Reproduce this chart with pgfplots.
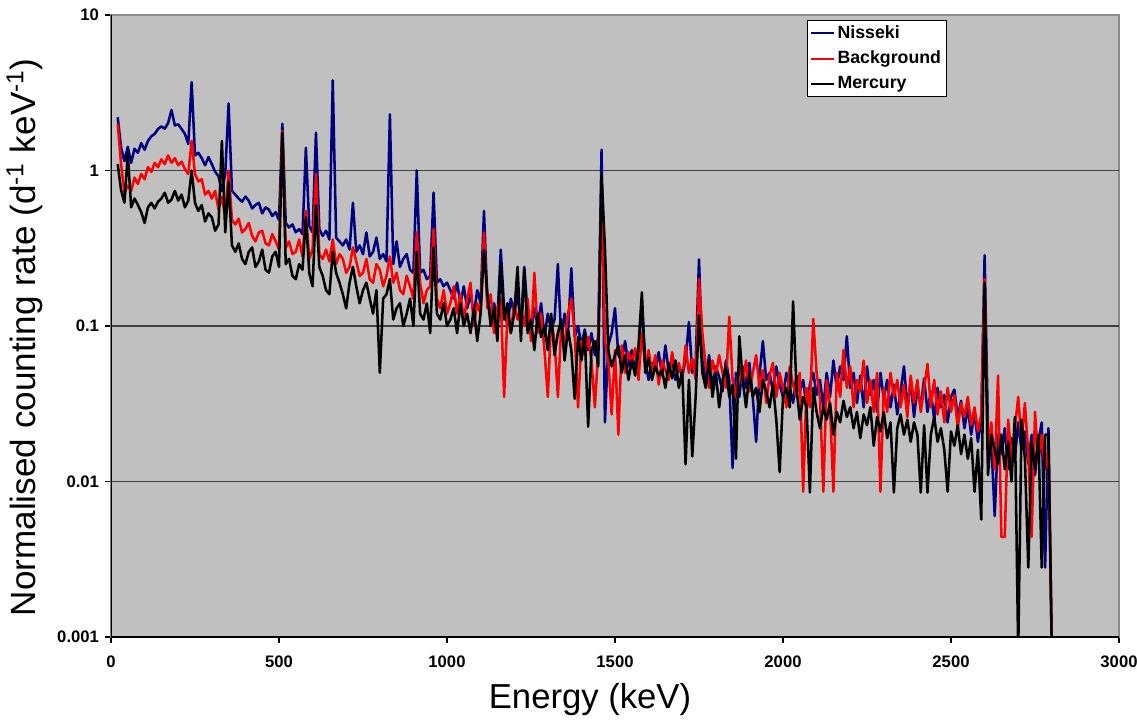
\documentclass[border=0pt]{standalone}
\usepackage{fontspec}
\setmainfont{Liberation Sans}
\usepackage{pgfplots}
\usepackage{pgfplotstable}
\pgfplotsset{compat=1.18}
\usetikzlibrary{calc}
\definecolor{nisseki}{HTML}{000080}
\definecolor{plotbg}{HTML}{C0C0C0}
\definecolor{gridc}{HTML}{404040}

% E (keV), Nisseki, Background, Mercury  (d^-1 keV^-1)
\pgfplotstableread{
E N B M
20 2.20 2.00 1.10
30 1.40 1.10 0.75
40 1.15 0.72 0.62
50 1.42 0.80 1.28
60 1.12 0.74 0.58
70 1.38 0.90 0.66
80 1.30 0.82 0.60
90 1.50 0.95 0.54
100 1.36 0.88 0.46
110 1.55 1.05 0.58
120 1.66 0.98 0.62
130 1.72 1.12 0.57
140 1.85 1.05 0.63
150 1.92 1.18 0.66
160 1.86 1.10 0.72
170 2.02 1.25 0.62
180 2.45 1.12 0.65
190 1.95 1.20 0.74
200 1.98 1.08 0.64
210 1.85 1.14 0.70
220 1.72 1.02 0.58
230 1.48 0.95 0.64
240 3.70 1.55 1.00
250 1.25 0.95 0.62
260 1.30 0.85 0.55
270 1.20 0.88 0.60
280 1.08 0.70 0.47
290 1.22 0.74 0.53
300 1.10 0.66 0.50
310 0.98 0.74 0.41
320 0.92 0.56 0.45
330 0.74 0.68 1.55
340 0.95 0.50 0.40
350 2.70 1.00 0.85
360 0.74 0.48 0.33
370 0.70 0.45 0.30
380 0.66 0.49 0.34
390 0.63 0.40 0.27
400 0.68 0.42 0.25
410 0.64 0.46 0.30
420 0.57 0.38 0.32
430 0.60 0.35 0.24
440 0.62 0.40 0.26
450 0.53 0.41 0.31
460 0.58 0.34 0.23
470 0.56 0.33 0.22
480 0.51 0.39 0.28
490 0.54 0.35 0.30
500 0.48 0.31 0.24
510 2.00 1.80 1.75
520 0.46 0.32 0.25
530 0.43 0.35 0.27
540 0.45 0.29 0.21
550 0.40 0.30 0.20
560 0.42 0.36 0.25
570 0.39 0.28 0.23
580 1.40 0.55 0.50
590 0.44 0.27 0.22
600 0.40 0.31 0.18
610 1.75 0.95 0.60
620 0.42 0.29 0.24
630 0.38 0.27 0.21
640 0.41 0.31 0.17
650 0.36 0.26 0.16
660 3.80 0.36 0.30
670 0.37 0.25 0.22
680 0.35 0.29 0.19
690 0.33 0.27 0.16
700 0.36 0.22 0.13
710 0.31 0.24 0.19
720 0.62 0.32 0.24
730 0.30 0.26 0.18
740 0.33 0.21 0.14
750 0.29 0.22 0.17
760 0.40 0.27 0.19
770 0.28 0.20 0.15
780 0.30 0.19 0.12
790 0.37 0.25 0.17
800 0.27 0.23 0.05
810 0.29 0.18 0.15
820 0.26 0.21 0.16
830 2.30 0.28 0.20
840 0.25 0.19 0.11
850 0.35 0.22 0.13
860 0.24 0.17 0.14
870 0.27 0.16 0.10
880 0.29 0.21 0.12
890 0.23 0.18 0.15
900 0.22 0.15 0.10
910 1.00 0.40 0.30
920 0.22 0.19 0.12
930 0.23 0.14 0.11
940 0.20 0.17 0.14
950 0.21 0.18 0.09
960 0.72 0.42 0.32
970 0.19 0.15 0.12
980 0.20 0.13 0.11
990 0.18 0.17 0.14
1000 0.19 0.12 0.10
1010 0.17 0.14 0.11
1020 0.15 0.18 0.13
1030 0.19 0.12 0.09
1040 0.14 0.16 0.14
1050 0.18 0.11 0.10
1060 0.13 0.15 0.12
1070 0.16 0.19 0.09
1080 0.12 0.10 0.13
1090 0.17 0.14 0.08
1100 0.14 0.12 0.12
1110 0.55 0.40 0.31
1120 0.15 0.13 0.16
1130 0.12 0.16 0.10
1140 0.14 0.09 0.13
1150 0.11 0.13 0.08
1160 0.31 0.15 0.25
1170 0.13 0.035 0.11
1180 0.10 0.12 0.14
1190 0.15 0.09 0.09
1200 0.12 0.14 0.12
1210 0.16 0.11 0.24
1220 0.10 0.13 0.08
1230 0.24 0.10 0.23
1240 0.12 0.15 0.09
1250 0.09 0.08 0.11
1260 0.13 0.22 0.07
1270 0.10 0.09 0.12
1280 0.14 0.12 0.085
1290 0.085 0.07 0.10
1300 0.12 0.035 0.07
1310 0.095 0.11 0.12
1320 0.11 0.08 0.065
1330 0.25 0.035 0.09
1340 0.08 0.10 0.11
1350 0.12 0.075 0.06
1360 0.09 0.12 0.095
1370 0.235 0.15 0.07
1380 0.085 0.09 0.034
1390 0.10 0.03 0.085
1400 0.075 0.08 0.06
1410 0.095 0.065 0.09
1420 0.07 0.085 0.0225
1430 0.09 0.06 0.07
1440 0.065 0.03 0.08
1450 0.085 0.07 0.055
1460 1.36 0.85 0.95
1470 0.024 0.08 0.32
1480 0.075 0.06 0.07
1490 0.09 0.027 0.055
1500 0.13 0.07 0.065
1510 0.065 0.02 0.075
1520 0.06 0.075 0.05
1530 0.08 0.05 0.065
1540 0.055 0.068 0.045
1550 0.07 0.058 0.06
1560 0.05 0.072 0.048
1570 0.065 0.045 0.075
1580 0.14 0.09 0.165
1590 0.06 0.055 0.05
1600 0.045 0.07 0.062
1610 0.058 0.05 0.045
1620 0.052 0.065 0.055
1630 0.068 0.042 0.048
1640 0.048 0.06 0.052
1650 0.075 0.052 0.04
1660 0.05 0.045 0.058
1670 0.062 0.068 0.046
1680 0.045 0.05 0.06
1690 0.055 0.058 0.04
1700 0.048 0.045 0.052
1710 0.06 0.075 0.0129
1720 0.106 0.05 0.045
1730 0.05 0.062 0.0145
1740 0.058 0.045 0.035
1750 0.268 0.2 0.117
1760 0.06 0.09 0.05
1770 0.045 0.055 0.04
1780 0.065 0.04 0.06
1790 0.04 0.06 0.035
1800 0.055 0.048 0.05
1810 0.047 0.065 0.03
1820 0.038 0.05 0.045
1830 0.06 0.04 0.055
1840 0.045 0.115 0.035
1850 0.0122 0.045 0.042
1860 0.05 0.035 0.014
1870 0.035 0.055 0.086
1880 0.055 0.042 0.045
1890 0.04 0.06 0.03
1900 0.058 0.038 0.05
1910 0.035 0.05 0.035
1920 0.018 0.065 0.04
1930 0.048 0.04 0.028
1940 0.08 0.052 0.045
1950 0.045 0.032 0.038
1960 0.05 0.048 0.03
1970 0.038 0.058 0.042
1980 0.055 0.035 0.025
1990 0.042 0.05 0.0115
2000 0.035 0.04 0.035
2010 0.05 0.03 0.04
2020 0.04 0.055 0.03
2030 0.032 0.042 0.144
2040 0.048 0.035 0.04
2050 0.038 0.05 0.025
2060 0.045 0.0086 0.035
2070 0.03 0.04 0.03
2080 0.042 0.03 0.0085
2090 0.05 0.111 0.04
2100 0.036 0.05 0.028
2110 0.045 0.035 0.022
2120 0.03 0.0086 0.03
2130 0.05 0.045 0.025
2140 0.035 0.03 0.032
2150 0.06 0.0086 0.02
2160 0.04 0.05 0.028
2170 0.055 0.035 0.024
2180 0.045 0.07 0.033
2190 0.086 0.04 0.026
2200 0.04 0.055 0.03
2210 0.05 0.03 0.022
2220 0.032 0.045 0.028
2230 0.048 0.038 0.019
2240 0.03 0.06 0.027
2250 0.055 0.032 0.023
2260 0.036 0.045 0.03
2270 0.045 0.028 0.017
2280 0.028 0.05 0.026
2290 0.05 0.0086 0.021
2300 0.034 0.04 0.028
2310 0.045 0.028 0.019
2320 0.03 0.05 0.024
2330 0.042 0.035 0.0085
2340 0.027 0.045 0.022
2350 0.038 0.03 0.027
2360 0.055 0.042 0.02
2370 0.03 0.026 0.025
2380 0.044 0.048 0.018
2390 0.026 0.032 0.024
2400 0.04 0.045 0.02
2410 0.03 0.028 0.0085
2420 0.046 0.04 0.023
2430 0.028 0.057 0.0085
2440 0.038 0.03 0.02
2450 0.025 0.045 0.026
2460 0.04 0.027 0.018
2470 0.03 0.038 0.022
2480 0.036 0.024 0.016
2490 0.024 0.04 0.0086
2500 0.035 0.028 0.021
2510 0.039 0.036 0.017
2520 0.026 0.022 0.023
2530 0.033 0.032 0.015
2540 0.022 0.026 0.02
2550 0.03 0.035 0.014
2560 0.02 0.023 0.019
2570 0.028 0.03 0.0086
2580 0.018 0.021 0.016
2590 0.025 0.027 0.0057
2600 0.285 0.2 0.19
2610 0.022 0.015 0.011
2620 0.018 0.024 0.02
2630 0.006 0.012 0.016
2640 0.02 0.048 0.013
2650 0.015 0.0044 0.02
2660 0.022 0.0044 0.012
2670 0.012 0.025 0.018
2680 0.019 0.014 0.01
2690 0.014 0.022 0.026
2700 0.024 0.035 0.0008
2710 0.016 0.018 0.025
2720 0.021 0.032 0.014
2730 0.013 0.015 0.0028
2740 0.02 0.0044 0.018
2750 0.011 0.028 0.012
2760 0.018 0.013 0.02
2770 0.024 0.02 0.0028
2780 0.0028 0.012 0.02
2790 0.022 0.016 0.02
2800 0.0008 0.0008 0.0008
}\spectra

\begin{document}
\begin{tikzpicture}
\begin{axis}[
  scale only axis, width=756pt, height=466.5pt,
  xmin=0, xmax=3000, ymode=log, ymin=0.001, ymax=10,
  xtick={0,500,...,3000},
  ytick={0.001,0.01,0.1,1,10},
  yticklabels={0.001,0.01,0.1,1,10},
  yminorticks=false,
  /pgf/number format/1000 sep={},
  /pgf/number format/assume math mode=true,
  tick label style={font=\bfseries\fontsize{12.5}{14}\selectfont},
  xtick pos=bottom, ytick pos=left,
  tick align=outside, major tick length=4.5pt,
  tick style={black, line width=0.8pt},
  xticklabel style={yshift=-6pt},
  yticklabel style={xshift=-1pt},
  axis line style={draw=black!45, line width=0.8pt},
  axis background/.style={fill=plotbg},
  xlabel={Energy (keV)},
  ylabel={Normalised counting rate (d\textsuperscript{-1} keV\textsuperscript{-1})},
  xlabel style={font=\fontsize{26}{29}\selectfont, xshift=-18.75pt, yshift=-5pt},
  ylabel style={font=\fontsize{26.3}{29}\selectfont, at={(ticklabel cs:0.482)}, yshift=4pt},
  legend style={at={(rel axis cs:0.829,0.992)}, anchor=north east,
    fill=white, draw=black,
    font=\bfseries\fontsize{13.3}{15}\selectfont,
    inner xsep=2pt, inner ysep=2pt, row sep=4pt},
  legend image post style={line width=1.5pt},
  legend cell align=left,
  every axis plot/.append style={line width=1.9pt, line join=round},
]
\draw[gridc, line width=0.8pt] (axis cs:0,1) -- (axis cs:3000,1);
\draw[gridc, line width=0.8pt] (axis cs:0,0.1) -- (axis cs:3000,0.1);
\draw[gridc, line width=0.8pt] (axis cs:0,0.01) -- (axis cs:3000,0.01);
\addplot[nisseki] table[x=E, y=N] {\spectra};
\addlegendentry{Nisseki}
\addplot[red] table[x=E, y=B] {\spectra};
\addlegendentry{Background}
\addplot[black] table[x=E, y=M] {\spectra};
\addlegendentry{Mercury}
\draw[black, line width=1pt] (rel axis cs:0,1) -- (rel axis cs:0,0) -- (rel axis cs:1,0);
\coordinate (ll) at (rel axis cs:0,0);
\coordinate (ur) at (rel axis cs:1,1);
\end{axis}
\pgfresetboundingbox
\path ($(ll)+(-83.25pt,-63.75pt)$) rectangle ($(ur)+(13.5pt,11.25pt)$);
\end{tikzpicture}
\end{document}
